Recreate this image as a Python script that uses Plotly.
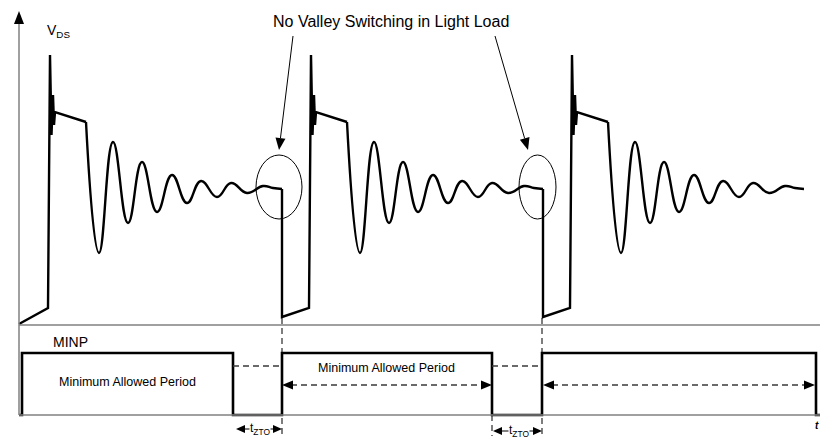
import math
import plotly.graph_objects as go

# ---------------- data (time and level in canvas units) ----------------
spike_times = [50, 311, 572]          # start of each switching cycle

# sharp turn-on edge + plateau (relative to each spike)
edge_dt = [-2, 0, 1.5, 3, 4, 5, 36]
edge_v = [308, 55, 135, 95, 125, 112, 122]

# damped ringing after demagnetisation (extrema)
ring_dt = [36, 49, 63, 78, 92, 107, 122, 137, 151, 167, 181, 197, 213, 223, 232]
ring_v = [122, 253, 142, 223, 162, 212, 175, 203, 181, 197, 183, 193, 186, 188, 189]

# turn-off drop at end of cycle (no valley switching)
drop_dt = [232, 232]
drop_v = [189, 317]

lead_t = [19, 48]
lead_v = [324, 308]

# MINP pulse train
minp_t = [19, 22, 22, 233, 233, 282, 282, 492, 492, 542, 542, 816, 816, 826]
minp_v = [415, 415, 353, 353, 415, 415, 353, 353, 415, 415, 353, 353, 415, 415]

tzto_spans = [(236, 282, 429), (493, 542, 431)]
period_arrows = [(282, 492, 385), (543, 815, 385)]
dash_h = [(233, 282, 366), (492, 542, 366)]
dash_v = [(282, 318, 436), (542, 318, 436), (492, 415, 436)]
ellipses = [(256, 155, 302, 219), (519, 155, 556, 219)]
callouts = [((293, 36), (279, 150)), ((495, 36), (528, 150))]

# ---------------- build traces ----------------
lin_x, lin_y, spl_x, spl_y = [], [], [], []
for i, s in enumerate(spike_times):
    if i == 0:
        lin_x += lead_t
        lin_y += lead_v
    else:
        p = spike_times[i - 1]
        lin_x += [p + d for d in drop_dt]
        lin_y += list(drop_v)
    lin_x += [s + d for d in edge_dt]
    lin_y += list(edge_v)
    lin_x.append(None)
    lin_y.append(None)
    spl_x += [s + d for d in ring_dt] + [None]
    spl_y += list(ring_v) + [None]

fig = go.Figure()
fig.add_trace(go.Scatter(x=lin_x, y=lin_y, mode="lines",
                         line=dict(color="black", width=2.4),
                         hoverinfo="skip", showlegend=False))
fig.add_trace(go.Scatter(x=spl_x, y=spl_y, mode="lines",
                         line=dict(color="black", width=2.4, shape="spline", smoothing=1.3),
                         hoverinfo="skip", showlegend=False))
fig.add_trace(go.Scatter(x=minp_t, y=minp_v, mode="lines",
                         line=dict(color="black", width=2.6),
                         hoverinfo="skip", showlegend=False))

shapes = []
GRAY = "#808080"
DASH = "#3a3a3a"


def head(tip, frm, L=10, W=4.5, color="black"):
    dx, dy = tip[0] - frm[0], tip[1] - frm[1]
    n = math.hypot(dx, dy)
    ux, uy = dx / n, dy / n
    bx, by = tip[0] - L * ux, tip[1] - L * uy
    px, py = -uy, ux
    path = (f"M {tip[0]} {tip[1]} L {bx + W * px} {by + W * py} "
            f"L {bx - W * px} {by - W * py} Z")
    shapes.append(dict(type="path", path=path, fillcolor=color,
                       line=dict(width=0), layer="above"))
    return bx, by


# axes / frame lines
shapes.append(dict(type="line", x0=19, y0=415, x1=19, y1=20, line=dict(color=GRAY, width=1.5)))
head((19, 11), (19, 40), L=13, W=5)
shapes.append(dict(type="line", x0=19, y0=325, x1=828, y1=325, line=dict(color=GRAY, width=1.5)))
shapes.append(dict(type="line", x0=19, y0=415, x1=828, y1=415, line=dict(color=GRAY, width=1.5)))

# dashed guides
for x0, x1, y in dash_h:
    shapes.append(dict(type="line", x0=x0, y0=y, x1=x1, y1=y,
                       line=dict(color=DASH, width=1.4, dash="6px,4px")))
for x, y0, y1 in dash_v:
    shapes.append(dict(type="line", x0=x, y0=y0, x1=x, y1=y1,
                       line=dict(color=DASH, width=1.3, dash="6px,4px"), layer="below"))

# period double arrows
for x0, x1, y in period_arrows:
    shapes.append(dict(type="line", x0=x0 + 9, y0=y, x1=x1 - 9, y1=y,
                       line=dict(color=DASH, width=1.4, dash="6px,4px")))
    head((x0, y), (x1, y), L=11, W=4.5)
    head((x1, y), (x0, y), L=11, W=4.5)

# tZTO arrows
for x0, x1, y in tzto_spans:
    shapes.append(dict(type="line", x0=x0 + 5, y0=y, x1=x1 - 5, y1=y,
                       line=dict(color="black", width=1.2)))
    head((x0, y), (x1, y), L=9, W=4)
    head((x1, y), (x0, y), L=9, W=4)

# ellipses
for x0, y0, x1, y1 in ellipses:
    shapes.append(dict(type="circle", x0=x0, y0=y0, x1=x1, y1=y1,
                       line=dict(color="black", width=1)))

# callout arrows
for frm, tip in callouts:
    bx, by = head(tip, frm, L=12, W=5)
    shapes.append(dict(type="line", x0=frm[0], y0=frm[1], x1=bx, y1=by,
                       line=dict(color="black", width=1)))

FONT = "Liberation Sans, Arial, sans-serif"
ann = []
ann.append(dict(x=391, y=21, text="No Valley Switching in Light Load", showarrow=False,
                font=dict(family=FONT, size=16, color="black"), xanchor="center", yanchor="middle"))
ann.append(dict(x=45, y=31, text="V<sub>DS</sub>", showarrow=False,
                font=dict(family=FONT, size=14, color="black"), xanchor="left", yanchor="middle"))
ann.append(dict(x=51, y=342, text="MINP", showarrow=False,
                font=dict(family=FONT, size=14, color="black"), xanchor="left", yanchor="middle"))
ann.append(dict(x=127, y=382, text="Minimum Allowed Period", showarrow=False,
                font=dict(family=FONT, size=12.5, color="black"), xanchor="center", yanchor="middle"))
ann.append(dict(x=386, y=368, text="Minimum Allowed Period", showarrow=False,
                font=dict(family=FONT, size=12.5, color="black"), xanchor="center", yanchor="middle"))
for x0, x1, y in tzto_spans:
    ann.append(dict(x=(x0 + x1) / 2 + 1, y=y, text="t<sub>ZTO</sub>", showarrow=False,
                    font=dict(family=FONT, size=12, color="black"), xanchor="center",
                    yanchor="middle", bgcolor="white", borderpad=0))
ann.append(dict(x=817, y=425, text="<i><b>t</b></i>", showarrow=False,
                font=dict(family=FONT, size=10, color="black"), xanchor="center", yanchor="middle"))

# The page body has an 8px margin: the plot is sized and ranged so canvas units map 1:1
# to window pixels.
OFF = 8
fig.update_layout(
    width=828 - OFF, height=438 - OFF, margin=dict(l=0, r=0, t=0, b=0),
    paper_bgcolor="white", plot_bgcolor="white",
    xaxis=dict(range=[OFF, 828], visible=False, fixedrange=True),
    yaxis=dict(range=[438, OFF], visible=False, fixedrange=True),
    shapes=shapes, annotations=ann, showlegend=False,
)
fig.write_html("out.html")
